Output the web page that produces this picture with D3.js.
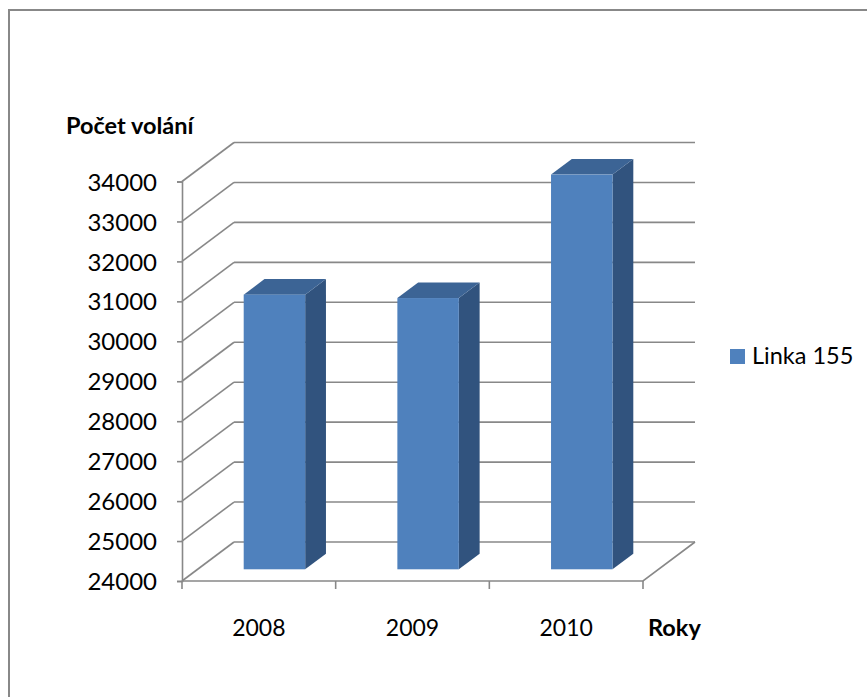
<!DOCTYPE html>
<html>
<head>
<meta charset="utf-8">
<script src="https://cdn.jsdelivr.net/npm/d3@7"></script>
<style>
  html, body { margin: 0; padding: 0; background: #fff; }
  svg { display: block; }
  text { font-family: Lato, "Open Sans", sans-serif; fill: #000; }
</style>
</head>
<body>
<svg id="chart" width="867" height="697"></svg>
<script>
// Calls to the 155 line per year
const categories = ["2008", "2009", "2010"];
const values = [30875, 30790, 33880];
const seriesName = "Linka 155";
const yTicks = [24000, 25000, 26000, 27000, 28000, 29000, 30000, 31000, 32000, 33000, 34000];
const yTitle = "Počet volání";
const xTitle = "Roky";

const svg = d3.select("#chart");

// Plot box: front plane and depth offset of the back wall
const front = { left: 182, right: 643, top: 181.5, bottom: 581 };
const depth = { dx: 52, dy: -39 };
const gridColor = "#888888";

const x = d3.scaleBand()
  .domain(categories)
  .range([front.left, front.right])
  .paddingInner(0.6)
  .paddingOuter(0.3);

const y = d3.scaleLinear()
  .domain([yTicks[0], yTicks[yTicks.length - 1]])
  .range([front.bottom, front.top]);

// project a front-plane point to a depth fraction (0 = front, 1 = back wall)
const proj = (px, py, d) => [px + d * depth.dx, py + d * depth.dy];

// chart frame
svg.append("path")
  .attr("d", "M9,700 L9,10 L870,10")
  .attr("fill", "none")
  .attr("stroke", "#888")
  .attr("stroke-width", 2);

const grid = svg.append("g")
  .attr("fill", "none")
  .attr("stroke", gridColor)
  .attr("stroke-width", 1.6);

// back wall gridlines
grid.selectAll("line.back")
  .data(yTicks)
  .join("line")
  .attr("class", "back")
  .attr("x1", d => proj(front.left, y(d), 1)[0])
  .attr("y1", d => proj(front.left, y(d), 1)[1])
  .attr("x2", d => proj(front.right, y(d), 1)[0])
  .attr("y2", d => proj(front.right, y(d), 1)[1]);

// side wall diagonals
grid.selectAll("line.side")
  .data(yTicks)
  .join("line")
  .attr("class", "side")
  .attr("x1", front.left)
  .attr("y1", d => y(d))
  .attr("x2", d => proj(front.left, y(d), 1)[0])
  .attr("y2", d => proj(front.left, y(d), 1)[1]);

// floor: front edge and right edge
const base = y(yTicks[0]);
grid.append("path")
  .attr("d", d3.line()([
    [front.left, base],
    [front.right, base],
    proj(front.right, base, 1)
  ]));

// category tick marks along the front edge
const step = x.step();
const xTickPos = d3.range(categories.length + 1).map(i => front.left + i * step);
grid.selectAll("line.xtick")
  .data(xTickPos)
  .join("line")
  .attr("class", "xtick")
  .attr("x1", d => d).attr("x2", d => d)
  .attr("y1", base).attr("y2", base + 8);

// value axis
const yAxis = d3.axisLeft(y)
  .tickValues(yTicks)
  .tickFormat(d3.format("d"))
  .tickSize(5)
  .tickPadding(20);

const yAxisG = svg.append("g")
  .attr("transform", `translate(${front.left},0)`)
  .call(yAxis);
yAxisG.select(".domain").attr("stroke", gridColor).attr("stroke-width", 1.6);
yAxisG.selectAll(".tick line").attr("stroke", gridColor).attr("stroke-width", 1.6);
yAxisG.selectAll(".tick text")
  .attr("font-family", "Lato, sans-serif")
  .attr("font-size", 24)
  .attr("fill", "#000")
  .attr("dy", "0.36em");

// 3D bars: front at depth 0.3, depth 0.4
const d0 = 0.3, bd = 0.4;
const bars = svg.append("g");
const barData = categories.map((c, i) => ({ c, v: values[i] }));

barData.forEach(b => {
  const fx0 = x(b.c), fx1 = x(b.c) + x.bandwidth();
  const [x0, yt] = proj(fx0, y(b.v), d0);
  const [x1] = proj(fx1, y(b.v), d0);
  const [, yb] = proj(fx0, base, d0);
  const ox = bd * depth.dx, oy = bd * depth.dy;
  const g = bars.append("g");
  // right side face
  g.append("path")
    .attr("d", d3.line()([[x1, yt], [x1 + ox, yt + oy], [x1 + ox, yb + oy], [x1, yb]]) + "Z")
    .attr("fill", "#31537e");
  // top face
  g.append("path")
    .attr("d", d3.line()([[x0, yt], [x1, yt], [x1 + ox, yt + oy], [x0 + ox, yt + oy]]) + "Z")
    .attr("fill", "#3c6495");
  // front face
  g.append("rect")
    .attr("x", x0).attr("y", yt)
    .attr("width", x1 - x0).attr("height", yb - yt)
    .attr("fill", "#4f81bd");
});

// category labels
svg.selectAll("text.cat")
  .data(categories)
  .join("text")
  .attr("class", "cat")
  .attr("x", d => x(d) + x.bandwidth() / 2)
  .attr("y", 636)
  .attr("text-anchor", "middle")
  .attr("font-size", 23)
  .text(d => d);

// axis titles
svg.append("text")
  .attr("x", 66).attr("y", 134)
  .attr("font-size", 23.5)
  .attr("font-weight", "bold")
  .text(yTitle);

svg.append("text")
  .attr("x", 648).attr("y", 636)
  .attr("font-size", 23.5)
  .attr("font-weight", "bold")
  .text(xTitle);

// legend
const legend = svg.append("g").attr("transform", "translate(730,349)");
legend.append("rect")
  .attr("width", 15).attr("height", 15)
  .attr("fill", "#4f81bd");
legend.append("text")
  .attr("x", 22).attr("y", 15)
  .attr("font-size", 23.5)
  .text(seriesName);
</script>
</body>
</html>
